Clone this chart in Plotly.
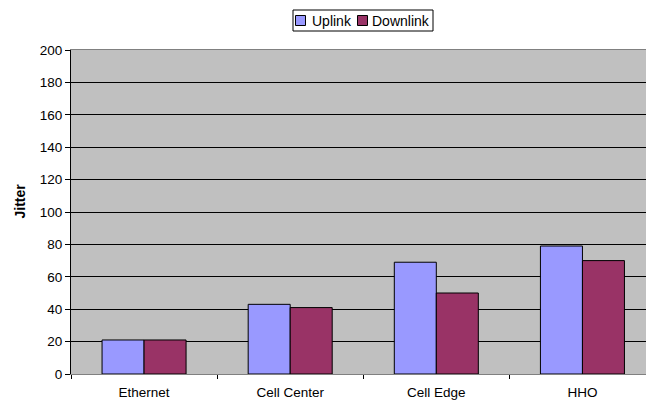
import plotly.graph_objects as go

categories = ["Ethernet", "Cell Center", "Cell Edge", "HHO"]
uplink = [21, 43, 69, 79]
downlink = [21, 41, 50, 70]
y_ticks = list(range(0, 201, 20))
series_names = ["Uplink", "Downlink"]
series_colors = ["#9999FF", "#993366"]

FAM = "Liberation Sans, Arial, sans-serif"
font = dict(family=FAM, size=13.5, color="black")

W, H = 646, 403
L, R, T, B = 71, 0, 50, 29
PW, PH = W - L - R, H - T - B


def px2x(px):
    return (px - L) / PW


def py2y(py):
    return (H - B - py) / PH


fig = go.Figure()
for name, vals, col in zip(series_names, [uplink, downlink], series_colors):
    fig.add_trace(go.Bar(name=name, x=categories, y=vals, showlegend=False,
                         marker=dict(color=col, line=dict(color="black", width=1))))

# custom compact legend (Excel style)
shapes = [dict(type="rect", xref="paper", yref="paper",
               x0=px2x(293), x1=px2x(433), y0=py2y(31), y1=py2y(10),
               line=dict(color="black", width=1), fillcolor="white", layer="above")]
annotations = []
sq = [(295.5, 309.5), (357.5, 370.5)]
for (sx, tx), name, col in zip(sq, series_names, series_colors):
    shapes.append(dict(type="rect", xref="paper", yref="paper",
                       x0=px2x(sx), x1=px2x(sx + 10), y0=py2y(25.5), y1=py2y(15.5),
                       line=dict(color="black", width=1), fillcolor=col, layer="above"))
    annotations.append(dict(text=name, xref="paper", yref="paper", x=px2x(tx), y=py2y(21),
                            xanchor="left", yanchor="middle", showarrow=False,
                            font=dict(family=FAM, size=14, color="black")))

annotations.append(dict(text="<b>Jitter</b>", xref="paper", yref="paper",
                        x=px2x(19), y=py2y(201.5), xanchor="center", yanchor="middle",
                        textangle=-90, showarrow=False,
                        font=dict(family=FAM, size=14, color="black")))

fig.update_layout(
    width=W, height=H,
    margin=dict(l=L, r=R, t=T, b=B, autoexpand=False),
    paper_bgcolor="white", plot_bgcolor="#C0C0C0",
    barmode="group", bargap=0.425, bargroupgap=0,
    font=font,
    showlegend=False,
    shapes=shapes,
    annotations=annotations,
    xaxis=dict(type="category", range=[-0.5, 3.435], tickson="boundaries",
               ticks="outside", ticklen=4, tickcolor="black",
               showline=True, linecolor="#808080", linewidth=1, mirror=True,
               showgrid=False, tickfont=font, ticklabelstandoff=6),
    yaxis=dict(range=[0, 200], tickvals=y_ticks, ticks="outside", ticklen=5,
               tickcolor="black", showline=True, linecolor="black", linewidth=1,
               showgrid=True, gridcolor="black", gridwidth=1, zeroline=False,
               tickfont=font, automargin=False),
)

fig.write_html("out.html", config={"displayModeBar": False},
               post_script="document.body.style.margin='0';document.body.style.overflow='hidden';")
